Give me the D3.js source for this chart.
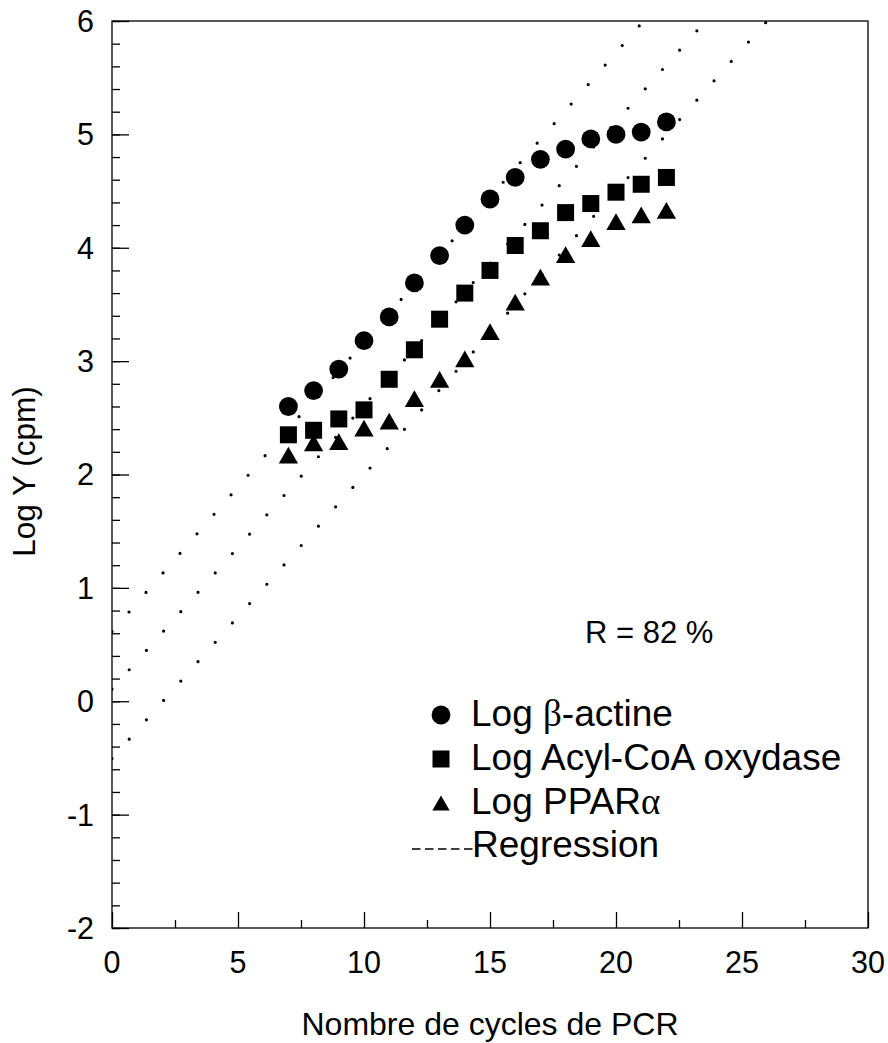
<!DOCTYPE html>
<html>
<head>
<meta charset="utf-8">
<script src="https://cdn.jsdelivr.net/npm/d3@7"></script>
<style>
  body { margin: 0; background: #fff; }
  svg { display: block; font-family: "Liberation Sans", Arial, sans-serif; }
  .greek { font-family: "Liberation Serif", "Times New Roman", serif; }
</style>
</head>
<body>
<svg id="chart" width="888" height="1043"></svg>
<script>
/* global d3 */

// PCR cycles (x) and log counts for each gene
var cycles = [7, 8, 9, 10, 11, 12, 13, 14, 15, 16, 17, 18, 19, 20, 21, 22];
var betaActine = [2.60, 2.74, 2.93, 3.18, 3.39, 3.69, 3.93, 4.20, 4.43, 4.62, 4.78, 4.87, 4.96, 5.00, 5.02, 5.11];
var acylCoA = [2.35, 2.39, 2.49, 2.57, 2.84, 3.10, 3.37, 3.60, 3.80, 4.02, 4.15, 4.31, 4.39, 4.49, 4.56, 4.62];
var ppar = [2.17, 2.28, 2.29, 2.41, 2.47, 2.67, 2.84, 3.02, 3.26, 3.52, 3.74, 3.94, 4.08, 4.23, 4.29, 4.33];

// regression lines (intercept, slope)
var regIntercepts = [0.615, 0.107, -0.505];
var regSlopes = [0.2553, 0.2502, 0.2502];

var xTicks = [0, 5, 10, 15, 20, 25, 30];
var yTicks = [-2, -1, 0, 1, 2, 3, 4, 5, 6];
var legendLabels = ['Log ', 'Log Acyl-CoA oxydase', 'Log PPAR'];

var svg = d3.select('#chart');
var margin = { left: 112, right: 20, top: 21, bottom: 115 };
var W = 888, H = 1043;

var x = d3.scaleLinear().domain([0, 30]).range([margin.left, W - margin.right]);
var y = d3.scaleLinear().domain([-2, 6]).range([H - margin.bottom, margin.top]);

// triangle centred on its bounding box
var triangleBox = {
  draw: function(ctx, size) {
    var w = Math.sqrt(size), h = w * 0.87;
    ctx.moveTo(0, -h / 2);
    ctx.lineTo(w / 2, h / 2);
    ctx.lineTo(-w / 2, h / 2);
    ctx.closePath();
  }
};

var series = [
  { values: betaActine, type: d3.symbolCircle, size: 278 },
  { values: acylCoA, type: d3.symbolSquare, size: 289 },
  { values: ppar, type: triangleBox, size: 372 }
];

svg.append('clipPath').attr('id', 'plot-clip')
  .append('rect')
  .attr('x', x(0)).attr('y', y(6))
  .attr('width', x(30) - x(0)).attr('height', y(-2) - y(6));

// regression lines (dotted)
var regG = svg.append('g').attr('clip-path', 'url(#plot-clip)');
regIntercepts.forEach(function(a, i) {
  var b = regSlopes[i];
  var xEnd = Math.min(30, (6 - a) / b);
  regG.append('line')
    .attr('x1', x(0)).attr('y1', y(a))
    .attr('x2', x(xEnd)).attr('y2', y(a + b * xEnd))
    .attr('stroke', '#000')
    .attr('stroke-width', 3.2)
    .attr('stroke-linecap', 'round')
    .attr('stroke-dasharray', '0,25.9');
});

// markers
series.forEach(function(s) {
  svg.append('g').selectAll('path')
    .data(cycles).enter()
    .append('path')
    .attr('transform', function(d, i) { return 'translate(' + x(d) + ',' + y(s.values[i]) + ')'; })
    .attr('d', d3.symbol().type(s.type).size(s.size))
    .attr('fill', '#000');
});

// frame
svg.append('rect')
  .attr('x', x(0)).attr('y', y(6))
  .attr('width', x(30) - x(0)).attr('height', y(-2) - y(6))
  .attr('fill', 'none').attr('stroke', '#000').attr('stroke-width', 1.3);

// axes with inward ticks
var yAxis = svg.append('g').attr('transform', 'translate(' + x(0) + ',0)')
  .call(d3.axisRight(y).tickValues(yTicks).tickSize(17).tickFormat(''));
var yMinor = svg.append('g').attr('transform', 'translate(' + x(0) + ',0)')
  .call(d3.axisRight(y).tickValues(d3.range(-2, 6.01, 0.2)).tickSize(8).tickFormat(''));
var xAxis = svg.append('g').attr('transform', 'translate(0,' + y(-2) + ')')
  .call(d3.axisTop(x).tickValues(xTicks).tickSize(16).tickFormat(''));
var xMinor = svg.append('g').attr('transform', 'translate(0,' + y(-2) + ')')
  .call(d3.axisTop(x).tickValues(d3.range(2.5, 30, 5)).tickSize(8).tickFormat(''));
[yAxis, yMinor, xAxis, xMinor].forEach(function(g) {
  g.select('.domain').remove();
  g.selectAll('line').attr('stroke', '#000').attr('stroke-width', 1.3);
});

// tick labels
svg.append('g').selectAll('text')
  .data(yTicks).enter()
  .append('text')
  .attr('x', 94).attr('y', d => y(d))
  .attr('dy', '0.36em')
  .attr('text-anchor', 'end')
  .attr('font-size', 30.5)
  .text(d => d);

svg.append('g').selectAll('text')
  .data(xTicks).enter()
  .append('text')
  .attr('x', d => x(d)).attr('y', 973)
  .attr('text-anchor', 'middle')
  .attr('font-size', 30.5)
  .text(d => d);

// axis titles
svg.append('text')
  .attr('x', (x(0) + x(30)) / 2).attr('y', 1035)
  .attr('text-anchor', 'middle')
  .attr('font-size', 32)
  .text('Nombre de cycles de PCR');

svg.append('text')
  .attr('transform', 'translate(35,' + ((y(6) + y(-2)) / 2 - 3) + ') rotate(-90)')
  .attr('text-anchor', 'middle')
  .attr('font-size', 31.5)
  .text('Log Y (cpm)');

svg.append('text')
  .attr('x', 585).attr('y', 643)
  .attr('font-size', 31)
  .text('R = 82 %');

// legend
var legendY = [726, 770, 814];
var legend = svg.append('g');
series.forEach(function(s, i) {
  legend.append('path')
    .attr('transform', 'translate(441,' + (legendY[i] - 11) + ')')
    .attr('d', d3.symbol().type(s.type).size(s === series[2] ? 300 : s.size))
    .attr('fill', '#000');
  var t = legend.append('text')
    .attr('x', 471).attr('y', legendY[i])
    .attr('font-size', 37)
    .text(legendLabels[i]);
  if (i === 0) {
    t.append('tspan').attr('class', 'greek').text('β');
    t.append('tspan').text('-actine');
  }
  if (i === 2) {
    t.append('tspan').attr('class', 'greek').text('α');
  }
});
legend.append('line')
  .attr('x1', 412).attr('x2', 473)
  .attr('y1', 849).attr('y2', 849)
  .attr('stroke', '#000').attr('stroke-width', 1.3)
  .attr('stroke-dasharray', '8.5,4.5');
legend.append('text')
  .attr('x', 472).attr('y', 857)
  .attr('font-size', 37)
  .text('Regression');
</script>
</body>
</html>
